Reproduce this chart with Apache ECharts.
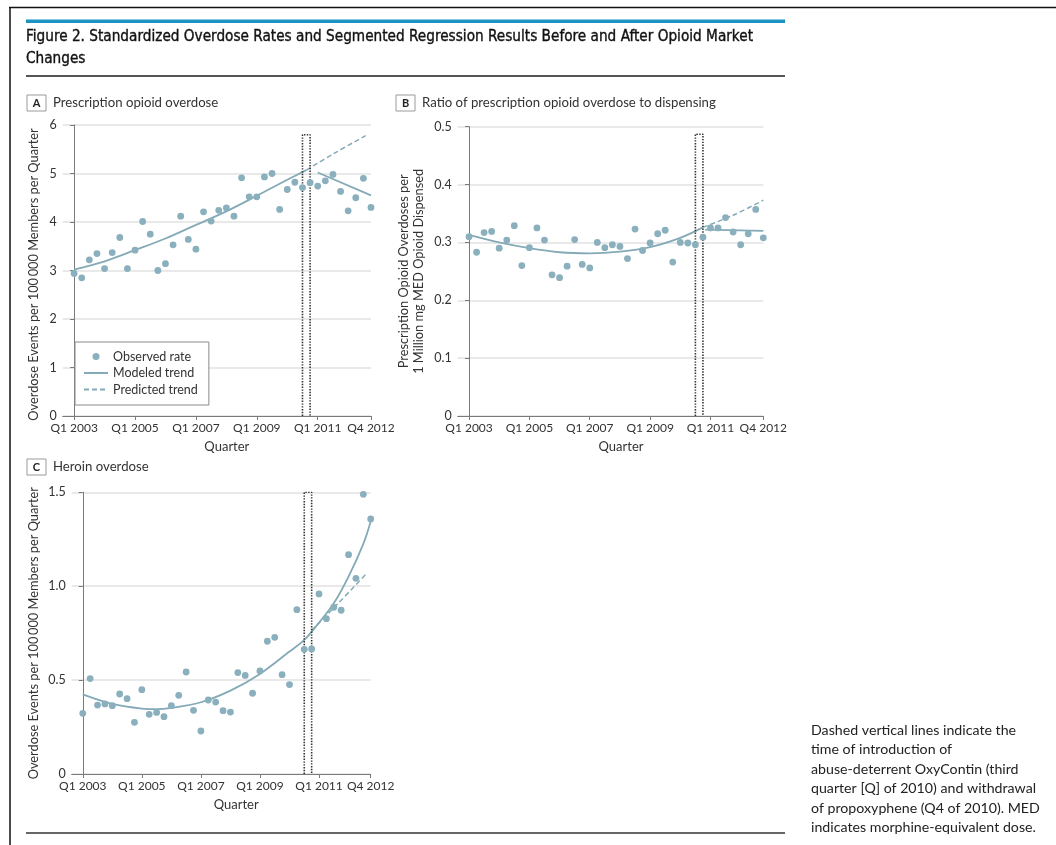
<!DOCTYPE html>
<html>
<head>
<meta charset="utf-8">
<script src="https://cdn.jsdelivr.net/npm/echarts@6/dist/echarts.min.js"></script>
<style>
html,body{margin:0;padding:0;background:#fff;}
#chart{width:1056px;height:845px;}
</style>
</head>
<body>
<div id="chart"></div>
<script>
// ---------- data ----------
const tickIdx = [0, 8, 16, 24, 32, 39];
const tickLabels = ['Q1 2003', 'Q1 2005', 'Q1 2007', 'Q1 2009', 'Q1 2011', 'Q4 2012'];

const obsA = [2.94,2.85,3.22,3.35,3.04,3.37,3.68,3.04,3.42,4.01,3.75,3.00,3.14,3.53,4.12,3.64,3.44,4.21,4.02,4.24,
              4.29,4.12,4.91,4.52,4.52,4.93,5.00,4.26,4.67,4.82,4.71,4.81,4.74,4.85,4.98,4.63,4.23,4.50,4.90,4.30];
const modeledPreA = [[0,3.02],[4,3.19],[8,3.42],[12,3.66],[16,3.94],[20,4.22],[24,4.54],[28,4.87],[30.5,5.07]];
const predictedA = [[30.5,5.07],[34,5.40],[38.3,5.78]];
const modeledPostA = [[32,5.02],[39,4.55]];

const obsB = [0.310,0.283,0.317,0.319,0.290,0.304,0.329,0.260,0.291,0.325,0.304,0.244,0.239,0.259,0.305,0.262,0.256,0.300,0.291,0.296,
              0.293,0.272,0.323,0.286,0.299,0.315,0.321,0.266,0.300,0.299,0.296,0.309,0.325,0.325,0.343,0.318,0.296,0.315,0.357,0.308];
const modeledPreB = [[0,0.313],[4,0.300],[8,0.290],[12,0.283],[16,0.281],[20,0.284],[24,0.292],[28,0.308],[31,0.326]];
const predictedB = [[31,0.326],[35,0.347],[39,0.373]];
const modeledPostB = [[31.3,0.322],[39,0.320]];

const obsC = [0.323,0.508,0.367,0.373,0.364,0.426,0.401,0.275,0.449,0.318,0.328,0.305,0.364,0.419,0.543,0.339,0.229,0.394,0.383,0.337,
              0.330,0.540,0.525,0.430,0.549,0.707,0.728,0.529,0.476,0.875,0.664,0.666,0.959,0.827,0.888,0.872,1.168,1.042,1.489,1.358];
const modeledC = [[0,0.424],[4,0.373],[8,0.348],[10,0.345],[12,0.352],[16,0.382],[20,0.444],[24,0.533],[28,0.652],[30,0.714],
                  [32,0.806],[34,0.909],[36,1.051],[38,1.225],[39,1.344]];
const predictedC = [[31,0.765],[34.5,0.905],[38.5,1.07]];

const eventIdx = [30, 31];
const eventTop = [5.8, 0.487, 1.5];

const yTicksA = {min: 0, max: 6, interval: 1};
const yTicksB = {min: 0, max: 0.5, interval: 0.1};
const yTicksC = {min: 0, max: 1.5, interval: 0.5};

// ---------- styles ----------
const FONT = 'Lato, "Open Sans", sans-serif';
const TITLEFONT = '"Liberation Sans Narrow", "DejaVu Sans Condensed", sans-serif';
const DOT = '#8aafbd';
const LINE = '#84aab7';
const AXIS = '#7a7a7a';
const GRIDC = '#e2e2e2';
const TXT = '#333';

const chart = echarts.init(document.getElementById('chart'), null, {renderer: 'canvas'});

function xAxis(gi, padShift) {
  return {
    type: 'value', gridIndex: gi, min: -1.5, max: 39,
    name: 'Quarter', nameLocation: 'middle', nameGap: 24,
    nameTextStyle: {fontFamily: FONT, fontSize: 13, color: TXT, padding: [0, 0, 0, padShift]},
    axisLine: {show: true, lineStyle: {color: AXIS, width: 1}},
    axisTick: {show: true, customValues: tickIdx, length: 4, lineStyle: {color: AXIS}},
    axisLabel: {customValues: tickIdx, fontFamily: FONT, fontSize: 12, color: TXT, margin: 6,
      formatter: v => tickLabels[tickIdx.indexOf(v)]},
    splitLine: {show: false}
  };
}
function yAxis(gi, t, name, gap, fmt, pad) {
  return {
    type: 'value', gridIndex: gi, min: t.min, max: t.max, interval: t.interval,
    name: name, nameLocation: 'middle', nameGap: gap,
    nameTextStyle: {fontFamily: FONT, fontSize: 12.8, color: TXT, lineHeight: 15, padding: pad},
    axisLine: {show: true, lineStyle: {color: AXIS, width: 1}},
    axisTick: {show: true, length: 4, lineStyle: {color: AXIS}},
    axisLabel: {fontFamily: FONT, fontSize: 12.5, color: TXT, margin: 6, formatter: fmt},
    splitLine: {show: true, lineStyle: {color: GRIDC, width: 1.5}}
  };
}

function obsSeries(arr, gi) {
  return {name: 'Observed rate', type: 'scatter', xAxisIndex: gi, yAxisIndex: gi,
    data: arr.map((v, i) => [i, v]), symbolSize: 6.8, itemStyle: {color: DOT, opacity: 1}, z: 5};
}
function lineSeries(name, data, gi, dashed) {
  return {name: name, type: 'line', xAxisIndex: gi, yAxisIndex: gi, data: data,
    smooth: 0.35, symbol: 'none', z: 3,
    lineStyle: {color: LINE, width: dashed ? 1.5 : 1.8, type: dashed ? [5, 3] : 'solid'},
    itemStyle: {color: LINE}};
}
function eventSeries(gi, top) {
  return {type: 'line', xAxisIndex: gi, yAxisIndex: gi, symbol: 'none', z: 4, silent: true,
    data: [[eventIdx[0], 0], [eventIdx[0], top], [eventIdx[1], top], [eventIdx[1], 0]],
    lineStyle: {color: '#333', width: 1.6, type: [1.4, 1.4]}};
}

function panelLabel(letter, x, y, text) {
  return [
    {type: 'rect', shape: {x: x, y: y, width: 19, height: 16}, style: {fill: '#fff', stroke: '#9a9a9a', lineWidth: 1}},
    {type: 'text', x: x + 9.5, y: y + 8.5, style: {text: letter, font: 'bold 11px ' + FONT, fill: '#222', align: 'center', verticalAlign: 'middle'}},
    {type: 'text', x: x + 26, y: y + 8, style: {text: text, font: '13.2px ' + FONT, fill: '#333', verticalAlign: 'middle'}}
  ];
}

const noteLines = ['Dashed vertical lines indicate the', 'time of introduction of', 'abuse-deterrent OxyContin (third',
  'quarter [Q] of 2010) and withdrawal', 'of propoxyphene (Q4 of 2010). MED', 'indicates morphine-equivalent dose.'];

const graphic = [
  {type: 'line', shape: {x1: 9, y1: 7.5, x2: 1056, y2: 7.5}, style: {stroke: '#111', lineWidth: 1.5}},
  {type: 'line', shape: {x1: 10, y1: 7, x2: 10, y2: 845}, style: {stroke: '#111', lineWidth: 1.5}},
  {type: 'rect', shape: {x: 26, y: 19.5, width: 759, height: 3.5}, style: {fill: '#1b93c4'}},
  {type: 'text', x: 26, y: 37.5, style: {text: 'Figure 2. Standardized Overdose Rates and Segmented Regression Results Before and After Opioid Market',
    font: '15.2px ' + TITLEFONT, fill: '#111', stroke: '#111', lineWidth: 0.35, verticalAlign: 'middle'}},
  {type: 'text', x: 26, y: 59.5, style: {text: 'Changes',
    font: '15.2px ' + TITLEFONT, fill: '#111', stroke: '#111', lineWidth: 0.35, verticalAlign: 'middle'}},
  {type: 'line', shape: {x1: 26, y1: 76, x2: 785, y2: 76}, style: {stroke: '#555', lineWidth: 2}},
  {type: 'line', shape: {x1: 26, y1: 833, x2: 785, y2: 833}, style: {stroke: '#333', lineWidth: 1.5}},
  ...panelLabel('A', 27, 95, 'Prescription opioid overdose'),
  ...panelLabel('B', 396, 95, 'Ratio of prescription opioid overdose to dispensing'),
  ...panelLabel('C', 27, 459, 'Heroin overdose'),
  ...noteLines.map((t, i) => ({type: 'text', x: 811, y: 730 + i * 19.5,
    style: {text: t, font: '14.2px ' + FONT, fill: '#222', verticalAlign: 'middle'}}))
];

const option = {
  animation: false,
  backgroundColor: '#fff',
  textStyle: {fontFamily: FONT},
  grid: [
    {left: 62.7, top: 125, width: 308.3, height: 291},
    {left: 457.7, top: 126.7, width: 305.6, height: 289.3},
    {left: 71.7, top: 492.3, width: 299, height: 281.7}
  ],
  xAxis: [xAxis(0, 20), xAxis(1, 21), xAxis(2, 30)],
  yAxis: [
    yAxis(0, yTicksA, 'Overdose Events per 100\u2009000 Members per Quarter', 21, v => String(v), [0, 8, 0, 0]),
    yAxis(1, yTicksB, 'Prescription Opioid Overdoses per\n1 Million mg MED Opioid Dispensed', 31, v => v === 0 ? '0' : v.toFixed(1), 0),
    yAxis(2, yTicksC, 'Overdose Events per 100\u2009000 Members per Quarter', 30, v => v === 0 ? '0' : v.toFixed(1), 0)
  ],
  legend: {
    show: true, orient: 'vertical', left: 75, top: 342,
    data: [
      {name: 'Observed rate'},
      {name: 'Modeled trend', itemStyle: {opacity: 0}},
      {name: 'Predicted trend', itemStyle: {opacity: 0}}
    ],
    itemWidth: 24, itemHeight: 7, itemGap: 3.5,
    padding: [8, 11, 9, 8],
    borderColor: '#8a8a8a', borderWidth: 1, backgroundColor: '#fff',
    textStyle: {fontFamily: FONT, fontSize: 12.5, color: TXT},
    selectedMode: false
  },
  graphic: graphic,
  series: [
    eventSeries(0, eventTop[0]),
    lineSeries('Modeled trend', modeledPreA, 0, false),
    lineSeries('Predicted trend', predictedA, 0, true),
    lineSeries('Modeled trend', modeledPostA, 0, false),
    obsSeries(obsA, 0),

    eventSeries(1, eventTop[1]),
    lineSeries('Modeled trend', modeledPreB, 1, false),
    lineSeries('Predicted trend', predictedB, 1, true),
    lineSeries('Modeled trend', modeledPostB, 1, false),
    obsSeries(obsB, 1),

    eventSeries(2, eventTop[2]),
    lineSeries('Modeled trend', modeledC, 2, false),
    lineSeries('Predicted trend', predictedC, 2, true),
    obsSeries(obsC, 2)
  ]
};
chart.setOption(option);
</script>
</body>
</html>
